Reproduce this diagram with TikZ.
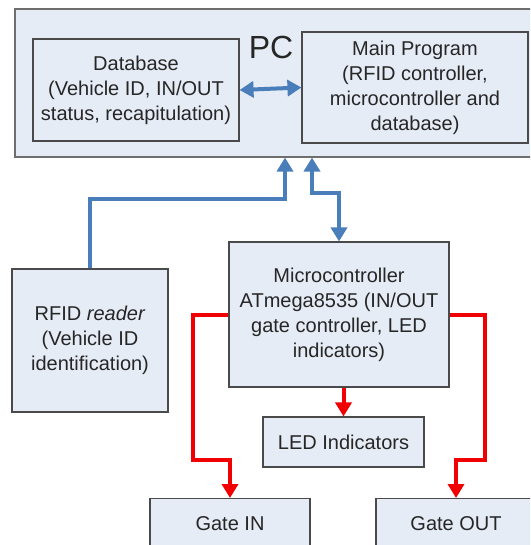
\documentclass[tikz,border=0pt]{standalone}
\usepackage{fontspec}
\setmainfont{Liberation Sans}
\usetikzlibrary{arrows.meta}

\definecolor{boxfill}{HTML}{E6ECF6}
\definecolor{boxline}{HTML}{4A4A4A}
\definecolor{linkblue}{HTML}{4A7EBB}
\definecolor{linkred}{HTML}{F00000}

\tikzset{
  box/.style={draw=boxline, fill=boxfill, line width=1.1pt, inner sep=0pt,
    align=center, font=\fontsize{20}{25}\selectfont, text=black!85},
  bluelink/.style={draw=linkblue, line width=4pt,
    -{Triangle[length=14pt,width=16pt]}},
  redlink/.style={draw=linkred, line width=4pt,
    -{Triangle[length=14pt,width=16pt]}},
  bothways/.style={{Triangle[length=14pt,width=16pt]}-{Triangle[length=14pt,width=16pt]}}
}

\begin{document}
\begin{tikzpicture}[x=1pt, y=-1pt]
\useasboundingbox (0,0) rectangle (530,545);
\clip (0,0) rectangle (530,545);

% PC block
\node[box, minimum width=530pt, minimum height=148pt, draw=boxline!80] (pc) at (280,83) {};
\node[font=\fontsize{32}{34}\selectfont, text=black!85] (pclabel) at (271,47) {PC};
\node[box, minimum width=206pt, minimum height=102pt] (db) at (136,90)
  {Database\\(Vehicle ID, IN/OUT\\status, recapitulation)};
\node[box, minimum width=226pt, minimum height=111pt] (main) at (415,87.5)
  {Main Program\\(RFID controller,\\microcontroller and\\database)};

% field side
\node[box, minimum width=156pt, minimum height=143pt] (rfid) at (90,340.5)
  {RFID \textit{reader}\\(Vehicle ID\\identification)};
\node[box, minimum width=220pt, minimum height=145pt] (micro) at (339,314.5)
  {Microcontroller\\ATmega8535 (IN/OUT\\gate controller, LED\\indicators)};
\node[box, minimum width=161pt, minimum height=50pt] (led) at (343.5,442)
  {LED Indicators};
\node[box, minimum width=160pt, minimum height=50pt, anchor=north] (gin) at (230,498)
  {Gate IN};
\node[box, minimum width=160pt, minimum height=50pt, anchor=north] (gout) at (456,498)
  {Gate OUT};

\coordinate (pcA) at ([xshift=5pt]pc.south);
\coordinate (pcB) at ([xshift=32pt]pc.south);

% blue links
\draw[bluelink, bothways] (db.east) -- (main.west);
\draw[bluelink] (rfid.north) |- (285,199) -- (pcA);
\draw[bluelink, bothways] (pcB) -- (312,193) -- (339,193) -- (micro.north);

% red links
\draw[redlink] (micro.west) -- (193,314.5) -- (193,460) -- (230,460) -- (gin.north);
\draw[redlink] (micro.east) -- (485,314.5) -- (485,460) -- (456,460) -- (gout.north);
\draw[redlink] (micro.south -| led.north) -- (led.north);
\end{tikzpicture}
\end{document}
